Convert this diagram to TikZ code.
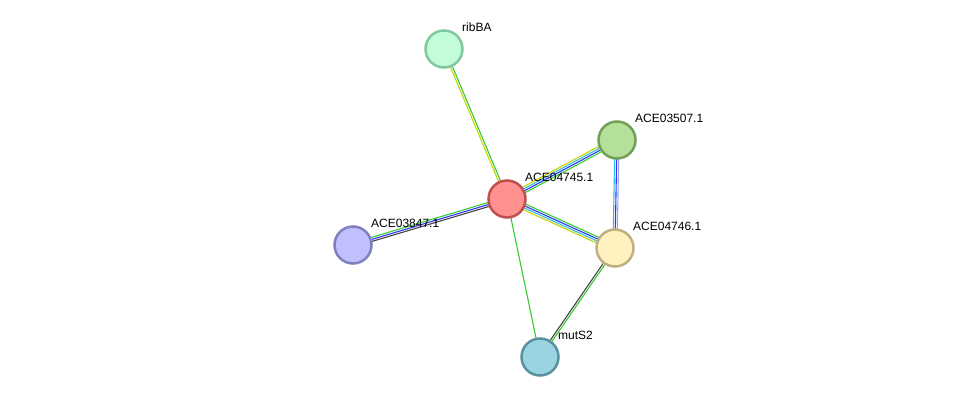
\documentclass[tikz,border=0pt]{standalone}
\usepackage{fontspec}
\setmainfont{Liberation Sans}
\usetikzlibrary{calc, backgrounds}

\definecolor{cgreen}{HTML}{33CC33}
\definecolor{cyellow}{HTML}{C8D400}
\definecolor{cblue}{HTML}{3333FF}
\definecolor{ccyan}{HTML}{33BBDD}
\definecolor{clav}{HTML}{A0A0FF}
\definecolor{cgray}{HTML}{444444}

\tikzset{
  prot/.style={circle, minimum size=37pt, inner sep=0pt, line width=2.5pt},
  lbl/.style={anchor=base west, font=\fontsize{12pt}{14pt}\selectfont, inner sep=0pt},
  link/.style={line width=1.1pt}
}

% parallel lines between two nodes: {offset/colour,...}
\newcommand{\bundle}[3]{%
  \foreach \off/\col in {#3}
    \draw[link, \col] ($(#1)!\off!90:(#2)$) -- ($(#2)!\off!-90:(#1)$);
}

\begin{document}
\begin{tikzpicture}[x=1pt, y=-1pt]
  \useasboundingbox (0,0) rectangle (975,403);

  % Nodes
  \node[prot, draw={rgb,255:red,128;green,200;blue,160}, fill={rgb,255:red,194;green,252;blue,216}] (ribBA) at (444,49) {};
  \node[prot, draw={rgb,255:red,112;green,160;blue,88}, fill={rgb,255:red,181;green,224;blue,154}] (ace3507) at (617,140) {};
  \node[prot, draw={rgb,255:red,192;green,80;blue,80}, fill={rgb,255:red,255;green,144;blue,144}] (ace4745) at (507,199) {};
  \node[prot, draw={rgb,255:red,128;green,128;blue,192}, fill={rgb,255:red,192;green,192;blue,255}] (ace3847) at (353,245) {};
  \node[prot, draw={rgb,255:red,192;green,176;blue,128}, fill={rgb,255:red,255;green,242;blue,192}] (ace4746) at (615,248) {};
  \node[prot, draw={rgb,255:red,90;green,144;blue,160}, fill={rgb,255:red,154;green,212;blue,224}] (mutS2) at (540,357) {};

  % Edges
  \begin{scope}[on background layer]
    \bundle{ribBA}{ace4745}{-1pt/cyellow, 1pt/cgreen}
    \bundle{ace4745}{ace3507}{-3pt/cgreen, -1pt/cblue, 1pt/ccyan, 3pt/cyellow}
    \bundle{ace3507}{ace4746}{2pt/clav, 0pt/cblue, -2pt/ccyan}
    \bundle{ace4745}{ace3847}{2pt/cgray, 0pt/cblue, -2pt/cgreen}
    \bundle{ace4745}{ace4746}{-3pt/cyellow, -1pt/ccyan, 1pt/cblue, 3pt/cgreen}
    \bundle{ace4745}{mutS2}{0pt/cgreen}
    \bundle{ace4746}{mutS2}{1pt/cgreen, -1pt/cgray}
  \end{scope}

  % Labels
  \foreach \n/\t in {ribBA/ribBA, ace3507/ACE03507.1, ace4745/ACE04745.1,
                     ace3847/ACE03847.1, ace4746/ACE04746.1, mutS2/mutS2}
    \node[lbl] (\n-lbl) at ($(\n.center)+(18,-17)$) {\t};

\end{tikzpicture}
\end{document}
